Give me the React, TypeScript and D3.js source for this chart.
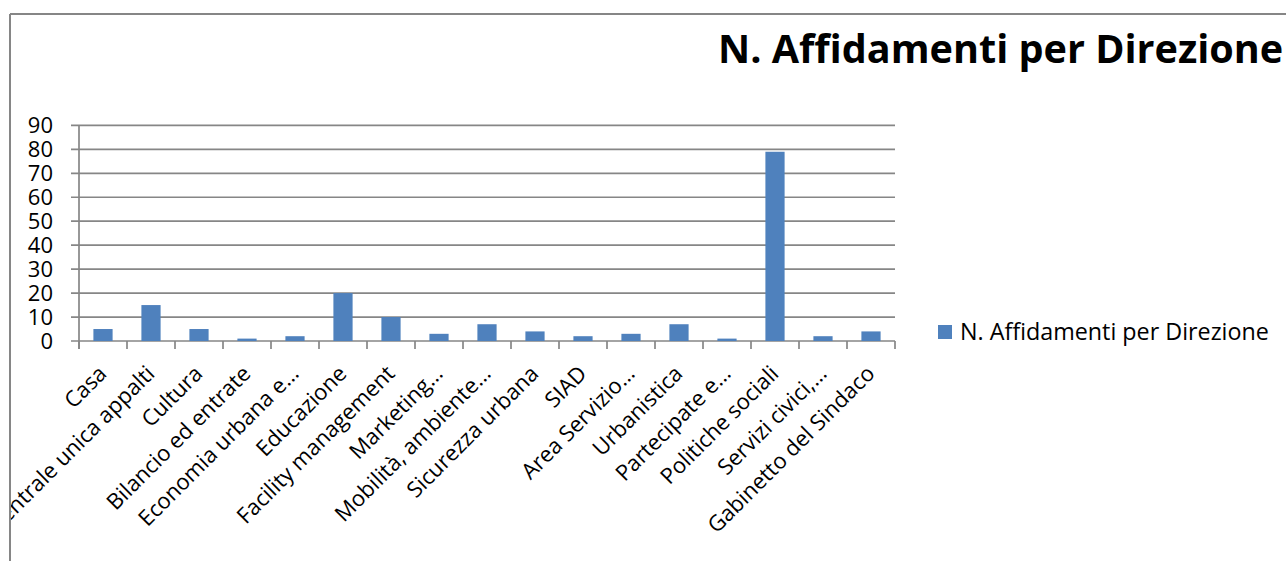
import React from "react";
import * as d3 from "d3";

// Directions and number of assignments per direction
const categories: string[] = [
  "Casa",
  "Centrale unica appalti",
  "Cultura",
  "Bilancio ed entrate",
  "Economia urbana e…",
  "Educazione",
  "Facility management",
  "Marketing…",
  "Mobilità, ambiente…",
  "Sicurezza urbana",
  "SIAD",
  "Area Servizio…",
  "Urbanistica",
  "Partecipate e…",
  "Politiche sociali",
  "Servizi civici,…",
  "Gabinetto del Sindaco",
];
const values: number[] = [5, 15, 5, 1, 2, 20, 10, 3, 7, 4, 2, 3, 7, 1, 79, 2, 4];
const yTicks: number[] = [0, 10, 20, 30, 40, 50, 60, 70, 80, 90];
const seriesName = "N. Affidamenti per Direzione";
const chartTitle = "N. Affidamenti per Direzione";

const W = 1286;
const H = 561;
const FONT = "'Open Sans', 'DejaVu Sans', sans-serif";
const GRID = "#868686";
const BAR = "#4F81BD";

export default function App() {
  const plotLeft = 79;
  const plotRight = 895;
  const plotBottom = 341;
  const plotTop = 125.4;

  const x = d3
    .scaleBand<string>()
    .domain(categories)
    .range([plotLeft, plotRight])
    .paddingInner(0.6)
    .paddingOuter(0.3);
  const y = d3.scaleLinear().domain([0, 90]).range([plotBottom, plotTop]);
  const step = x.step();
  const boundaries = d3.range(categories.length + 1).map((i) => plotLeft + i * step);

  return (
    <div style={{ position: "absolute", left: 0, top: 0, width: W, height: H, background: "#fff" }}>
      <svg width={W} height={H} style={{ display: "block" }} fontFamily={FONT}>
        <defs>
          <clipPath id="chartArea">
            <rect x={11} y={15} width={W - 11} height={H - 15} />
          </clipPath>
        </defs>
        <rect x={0} y={0} width={W} height={H} fill="#fff" />

        {/* chart frame */}
        <line x1={10} y1={14} x2={W} y2={14} stroke={GRID} strokeWidth={2} />
        <line x1={10} y1={14} x2={10} y2={H} stroke={GRID} strokeWidth={2} />

        <g clipPath="url(#chartArea)">
          {/* title */}
          <text x={718} y={62.5} fontSize={39.6} fontWeight={700} fill="#000">
            {chartTitle}
          </text>

          {/* horizontal gridlines with tick marks */}
          {yTicks.map((t) => (
            <line
              key={`g${t}`}
              x1={plotLeft - 8}
              x2={plotRight}
              y1={y(t)}
              y2={y(t)}
              stroke={GRID}
              strokeWidth={1.7}
            />
          ))}

          {/* value axis */}
          <line x1={plotLeft} x2={plotLeft} y1={y(90)} y2={plotBottom + 8} stroke={GRID} strokeWidth={1.7} />
          {yTicks.map((t) => (
            <text
              key={`yl${t}`}
              x={53}
              y={y(t)}
              dy="0.36em"
              textAnchor="end"
              fontSize={22}
              fill="#000"
            >
              {t}
            </text>
          ))}

          {/* category axis ticks */}
          {boundaries.map((bx, i) => (
            <line
              key={`xt${i}`}
              x1={bx}
              x2={bx}
              y1={plotBottom}
              y2={plotBottom + 8}
              stroke={GRID}
              strokeWidth={1.7}
            />
          ))}

          {/* bars */}
          {categories.map((c, i) => (
            <rect
              key={`b${i}`}
              x={x(c)!}
              y={y(values[i])}
              width={x.bandwidth()}
              height={plotBottom - y(values[i])}
              fill={BAR}
            />
          ))}

          {/* category labels */}
          {categories.map((c) => {
            const cx = x(c)! + x.bandwidth() / 2;
            return (
              <text
                key={`xl${c}`}
                transform={`translate(${cx + 5},${plotBottom + 34}) rotate(-45)`}
                textAnchor="end"
                fontSize={22}
                fill="#000"
              >
                {c}
              </text>
            );
          })}

          {/* legend */}
          <rect x={938} y={325} width={14} height={14} fill={BAR} />
          <text x={960} y={339.5} fontSize={23.3} fill="#000">
            {seriesName}
          </text>
        </g>
      </svg>
    </div>
  );
}
